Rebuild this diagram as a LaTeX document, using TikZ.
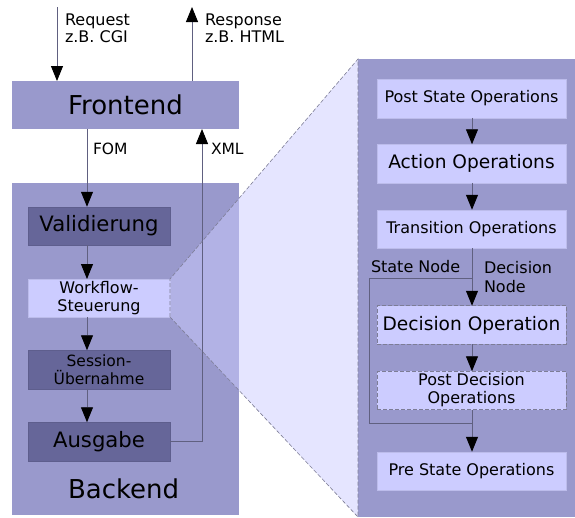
\documentclass[tikz,border=0pt]{standalone}
\usepackage{fontspec}
\setmainfont{DejaVu Sans}
\usetikzlibrary{arrows.meta}
\definecolor{midc}{RGB}{153,153,204}
\definecolor{darkc}{RGB}{102,102,153}
\definecolor{lightc}{RGB}{204,204,255}
\definecolor{linec}{RGB}{96,96,128}
\definecolor{dashc}{RGB}{125,125,150}
\newcommand\DiaS{\fontsize{16}{18}\selectfont}
\newcommand\DiaT{\fontsize{15.5}{18}\selectfont}
\newcommand\DiaM{\fontsize{18.6}{22}\selectfont}
\newcommand\DiaV{\fontsize{21.2}{24}\selectfont}
\newcommand\DiaL{\fontsize{26}{30}\selectfont}
\begin{document}
\begin{tikzpicture}[x=1pt,y=-1pt,
  plainbox/.style={inner sep=0pt, outer sep=0pt, align=center, text=black},
  midbox/.style={plainbox, fill=midc},
  darkbox/.style={plainbox, fill=darkc, draw=darkc!92!black, line width=0.5pt,
                  minimum width=142pt, minimum height=38.5pt},
  lightbox/.style={plainbox, fill=lightc, draw=lightc!92!black, line width=0.5pt,
                  minimum width=142pt, minimum height=38pt},
  opbox/.style={plainbox, fill=lightc, draw=lightc!92!black, line width=0.5pt,
                  minimum width=189pt, minimum height=38.5pt},
  dashbox/.style={opbox, draw=dashc, dash pattern=on 4pt off 2pt, line width=0.6pt},
  conn/.style={draw=linec, line width=0.9pt},
  arr/.style={conn, -{Triangle[length=15pt,width=12pt,color=black]}},
  dashline/.style={draw=dashc, line width=0.6pt, dash pattern=on 4pt off 2pt},
  lbl/.style={inner sep=0pt, outer sep=0pt, text=black, anchor=base west}
]
\useasboundingbox (0,0) rectangle (575,517);

% big boxes
\node[midbox, minimum width=227pt, minimum height=48pt, font=\DiaL] (front) at (125.5,105) {Frontend};
\node[midbox, minimum width=227pt, minimum height=332pt] (back) at (125.5,349) {};

% zoom panel
\node[midbox, minimum width=217pt, minimum height=458pt] (panel) at (466.5,288) {};

% left boxes
\node[darkbox, font=\DiaV] (valid) at (99,226) {Validierung};
\node[lightbox, font=\DiaS] (wf) at (99,298) {Workflow-\\Steuerung};
\node[darkbox, font=\DiaT] (sess) at (99,369.5) {Session-\\Übernahme};
\node[darkbox, font=\DiaV] (ausg) at (99,441.5) {Ausgabe};

% funnel
\fill[lightc, fill opacity=0.5] (wf.north east) -- (panel.north west) -- (panel.south west) -- (wf.south east) -- cycle;

% panel boxes
\node[opbox, font=\DiaS] (pso) at (471.5,98.5) {Post State Operations};
\node[opbox, font=\DiaM] (act) at (471.5,163.5) {Action Operations};
\node[opbox, font=\DiaS] (trans) at (471.5,229) {Transition Operations};
\node[dashbox, font=\DiaM] (dec) at (471.5,325) {Decision Operation};
\node[dashbox, font=\DiaS] (pdec) at (471.5,390.5) {Post Decision\\Operations};
\node[opbox, font=\DiaS] (pre) at (471.5,471) {Pre State Operations};

% helper coordinates
\coordinate (reqtop) at (57,7);
\coordinate (restop) at (192,7);
\coordinate (colx) at (87,0);
\coordinate (xmlx) at (202,0);
\coordinate (opx) at (472,0);
\coordinate (loopx) at (369,0);
\coordinate (sy1) at (0,278);
\coordinate (sy2) at (0,423);

% connectors
\draw[arr] (reqtop) -- (reqtop |- front.north);
\draw[arr] (restop |- front.north) -- (restop);
\draw[arr] (front.south -| colx) -- (valid.north -| colx);
\draw[arr] (valid.south -| colx) -- (wf.north -| colx);
\draw[arr] (wf.south -| colx) -- (sess.north -| colx);
\draw[arr] (sess.south -| colx) -- (ausg.north -| colx);
\draw[arr] (ausg.east) -| (xmlx |- front.south);

\draw[arr] (pso.south -| opx) -- (act.north -| opx);
\draw[arr] (act.south -| opx) -- (trans.north -| opx);
\draw[arr] (trans.south -| opx) -- (dec.north -| opx);
\draw[arr] (dec.south -| opx) -- (pdec.north -| opx);
\draw[arr] (pdec.south -| opx) -- (pre.north -| opx);
\draw[conn] (opx |- sy1) -- (loopx |- sy1) -- (loopx |- sy2) -- (opx |- sy2);

% funnel outline
\draw[dashline] (wf.south east) -- (wf.north east) -- (panel.north west) -- (panel.south west) -- cycle;

% labels
\node[lbl, font=\DiaS] (reqa) at (65,25) {Request};
\node[lbl, font=\DiaS] (reqb) at (65,42) {z.B. CGI};
\node[lbl, font=\DiaS] (resa) at (205,25) {Response};
\node[lbl, font=\DiaS] (resb) at (205,42) {z.B. HTML};
\node[lbl, font=\DiaT] (fom) at (93,154) {FOM};
\node[lbl, font=\DiaT] (xml) at (211,154) {XML};
\node[lbl, font=\DiaL] (backlbl) at (68,498) {Backend};
\node[lbl, font=\DiaS] (snode) at (371,272) {State Node};
\node[lbl, font=\DiaS] (dnodea) at (484,273) {Decision};
\node[lbl, font=\DiaS] (dnodeb) at (484,292) {Node};
\end{tikzpicture}
\end{document}
